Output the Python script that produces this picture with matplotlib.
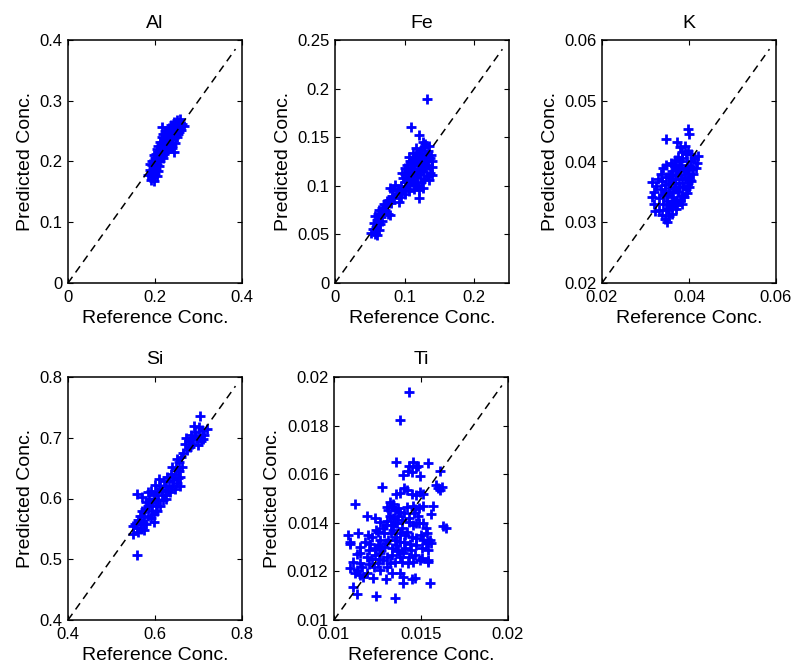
import matplotlib
matplotlib.use("Agg")
import matplotlib.pyplot as plt

plt.rcParams['font.family'] = ['Liberation Sans', 'DejaVu Sans']

# ---------------- data ----------------
al_pts = [(0.185,0.178),(0.190,0.170),(0.193,0.182),(0.188,0.186),(0.196,0.175),(0.198,0.168),(0.200,0.180),
          (0.195,0.190),(0.202,0.188),(0.205,0.176),(0.192,0.195),(0.199,0.198),(0.204,0.195),(0.208,0.185),
          (0.210,0.192),(0.200,0.205),(0.206,0.203),(0.212,0.200),(0.197,0.210),(0.203,0.212),(0.209,0.208),
          (0.214,0.207),(0.205,0.220),(0.210,0.216),(0.215,0.214),(0.218,0.205),(0.208,0.226),(0.213,0.223),
          (0.218,0.220),(0.221,0.213),(0.212,0.232),(0.216,0.229),(0.220,0.226),(0.224,0.222),(0.216,0.240),
          (0.221,0.236),(0.225,0.232),(0.228,0.228),(0.215,0.257),(0.222,0.245),(0.226,0.241),(0.230,0.236),
          (0.233,0.232),(0.228,0.250),(0.232,0.246),(0.235,0.242),(0.238,0.237),(0.232,0.255),(0.236,0.252),
          (0.240,0.248),(0.243,0.244),(0.237,0.260),(0.241,0.257),(0.245,0.253),(0.248,0.249),(0.243,0.265),
          (0.247,0.262),(0.251,0.258),(0.254,0.255),(0.250,0.268),(0.255,0.264),(0.258,0.260),(0.257,0.270),
          (0.262,0.262),(0.267,0.258),(0.243,0.216),(0.238,0.222),(0.245,0.230),(0.250,0.240),(0.252,0.246),
          (0.225,0.215),(0.230,0.220),(0.194,0.200),(0.188,0.196),(0.222,0.250),(0.218,0.245),(0.240,0.226),
          (0.235,0.226),(0.260,0.252),(0.255,0.248)]
al_x = [p[0] for p in al_pts]
al_y = [p[1] for p in al_pts]

fe_pts = [(0.132,0.189),(0.109,0.161),(0.121,0.152),(0.121,0.087),(0.127,0.145),
          (0.052,0.051),(0.058,0.050),(0.061,0.049),(0.055,0.056),(0.059,0.058),(0.063,0.055),(0.056,0.062),
          (0.060,0.065),(0.064,0.061),(0.067,0.064),(0.058,0.069),(0.062,0.071),(0.066,0.068),(0.069,0.072),
          (0.063,0.075),(0.068,0.077),(0.072,0.075),(0.070,0.081),(0.075,0.079),(0.076,0.071),(0.079,0.070),
          (0.074,0.084),(0.078,0.085),(0.080,0.082),
          (0.082,0.090),(0.085,0.087),(0.088,0.092),(0.083,0.096),(0.079,0.098),(0.092,0.083),(0.095,0.088),
          (0.090,0.097),(0.086,0.101),(0.093,0.094),
          (0.095,0.100),(0.098,0.096),(0.100,0.104),(0.097,0.108),(0.102,0.099),(0.104,0.106),(0.101,0.112),
          (0.106,0.101),(0.108,0.109),(0.105,0.115),(0.110,0.104),(0.112,0.111),(0.109,0.118),(0.104,0.121),
          (0.114,0.106),(0.116,0.114),(0.113,0.121),(0.108,0.125),(0.118,0.109),(0.120,0.117),(0.117,0.124),
          (0.112,0.128),(0.122,0.112),(0.124,0.120),(0.121,0.127),(0.116,0.131),(0.126,0.115),(0.128,0.123),
          (0.125,0.130),(0.120,0.134),(0.130,0.118),(0.132,0.126),(0.129,0.133),(0.124,0.137),(0.134,0.121),
          (0.136,0.129),(0.133,0.136),(0.128,0.140),(0.137,0.113),(0.138,0.132),(0.135,0.141),(0.140,0.125),
          (0.139,0.119),(0.132,0.110),(0.128,0.107),(0.124,0.104),(0.118,0.100),(0.113,0.097),(0.107,0.095),
          (0.100,0.092),(0.135,0.106),(0.140,0.111),(0.117,0.139),(0.112,0.134),(0.106,0.130),(0.100,0.118),
          (0.096,0.113),(0.130,0.143),(0.115,0.102),(0.120,0.096),(0.126,0.098),(0.110,0.124),
          (0.114,0.116),(0.119,0.121),(0.123,0.125),(0.127,0.119),(0.131,0.130),(0.115,0.126),(0.107,0.113)]
fe_x = [p[0] for p in fe_pts]
fe_y = [p[1] for p in fe_pts]

k_pts = [(0.0398,0.0454),(0.0399,0.0446),(0.0347,0.0437),(0.0372,0.0432),(0.0380,0.0424),(0.0390,0.0426),
         (0.0315,0.0366),(0.0316,0.0342),(0.0320,0.0330),(0.0322,0.0318),(0.0330,0.0320),(0.0337,0.0312),
         (0.0345,0.0306),(0.0349,0.0301),(0.0355,0.0310),(0.0362,0.0314),(0.0370,0.0322),(0.0372,0.0328),
         (0.0380,0.0335),(0.0388,0.0342),(0.0395,0.0348),(0.0400,0.0358),(0.0405,0.0368),(0.0410,0.0380),
         (0.0415,0.0390),(0.0418,0.0397),(0.0421,0.0409),(0.0412,0.0405),(0.0405,0.0412),(0.0398,0.0418),
         (0.0392,0.0412),(0.0385,0.0415),(0.0375,0.0408),(0.0368,0.0402),(0.0358,0.0398),(0.0348,0.0395),
         (0.0340,0.0390),(0.0335,0.0380),(0.0328,0.0372),(0.0323,0.0360),(0.0320,0.0350),
         (0.0330,0.0340),(0.0335,0.0355),(0.0340,0.0330),(0.0343,0.0345),(0.0345,0.0362),(0.0348,0.0375),
         (0.0350,0.0335),(0.0353,0.0350),(0.0355,0.0365),(0.0358,0.0380),(0.0360,0.0325),(0.0362,0.0342),
         (0.0365,0.0358),(0.0367,0.0372),(0.0370,0.0388),(0.0372,0.0336),(0.0375,0.0350),(0.0377,0.0365),
         (0.0380,0.0380),(0.0382,0.0395),(0.0385,0.0345),(0.0387,0.0360),(0.0390,0.0373),(0.0392,0.0388),
         (0.0395,0.0400),(0.0397,0.0365),(0.0400,0.0380),(0.0402,0.0392),(0.0405,0.0400),(0.0408,0.0388),
         (0.0338,0.0368),(0.0352,0.0322),(0.0365,0.0395),(0.0378,0.0400),(0.0360,0.0370),(0.0370,0.0355),
         (0.0384,0.0330),(0.0395,0.0390),
         (0.0350,0.0345),(0.0357,0.0357),(0.0363,0.0350),(0.0368,0.0365),(0.0373,0.0378),(0.0378,0.0358),
         (0.0383,0.0372),(0.0388,0.0385),(0.0375,0.0390),(0.0362,0.0385),(0.0355,0.0375),(0.0345,0.0352),
         (0.0340,0.0345),(0.0348,0.0320),(0.0357,0.0330),(0.0366,0.0333),(0.0393,0.0355),(0.0398,0.0375),
         (0.0402,0.0370),(0.0383,0.0405),(0.0370,0.0395)]
k_x = [p[0] for p in k_pts]
k_y = [p[1] for p in k_pts]

si_pts = [(0.704,0.736),(0.558,0.507),(0.558,0.608),(0.550,0.555),(0.550,0.541),(0.719,0.714),(0.712,0.705),
          (0.705,0.695),(0.698,0.688),(0.708,0.712),(0.700,0.718),(0.692,0.710),(0.695,0.700),(0.688,0.698),
          (0.686,0.690),(0.700,0.703),(0.710,0.698),(0.690,0.720),(0.683,0.705),(0.678,0.695),(0.680,0.684),
          (0.672,0.700),(0.670,0.690),(0.674,0.680),
          (0.665,0.675),(0.660,0.668),(0.655,0.660),(0.662,0.652),(0.650,0.665),(0.648,0.650),(0.655,0.645),
          (0.658,0.635),(0.645,0.640),(0.640,0.652),(0.642,0.630),(0.650,0.625),(0.658,0.620),(0.652,0.633),
          (0.636,0.640),(0.632,0.628),(0.640,0.620),(0.645,0.615),(0.628,0.635),(0.625,0.620),(0.630,0.612),
          (0.620,0.628),(0.615,0.615),(0.622,0.605),(0.610,0.632),(0.612,0.620),(0.618,0.598),(0.605,0.610),
          (0.600,0.622),(0.608,0.598),(0.612,0.588),(0.598,0.605),(0.594,0.595),(0.602,0.588),(0.590,0.612),
          (0.587,0.600),(0.585,0.588),(0.592,0.580),(0.598,0.575),(0.580,0.595),(0.578,0.582),(0.583,0.572),
          (0.590,0.568),(0.597,0.562),(0.575,0.570),(0.570,0.580),(0.572,0.560),(0.580,0.558),(0.565,0.572),
          (0.565,0.560),(0.568,0.550),(0.560,0.565),(0.558,0.552),(0.562,0.545),(0.555,0.558),(0.575,0.548),
          (0.570,0.603),(0.585,0.610),(0.605,0.580),(0.615,0.605),(0.625,0.600),(0.635,0.610),(0.600,0.600),
          (0.590,0.590)]
si_x = [p[0] for p in si_pts]
si_y = [p[1] for p in si_pts]

# Ti values in units of 1e-3
ti_pts = [(14.32,19.37),(13.79,18.24),(13.56,16.52),(14.55,16.52),(14.32,16.32),(14.74,16.29),(14.84,16.35),
          (15.41,16.46),(14.46,16.11),(14.26,16.14),(13.98,15.98),(14.93,15.93),(16.08,16.14),(12.73,15.49),
          (14.02,15.43),(14.17,15.36),(15.89,15.54),(15.95,15.43),(16.08,15.33),(16.18,15.49),(13.59,15.19),
          (13.79,15.22),(14.46,15.19),(14.74,15.15),(14.93,15.25),(15.12,15.19),(11.19,14.77),(13.21,14.84),
          (13.40,14.78),(13.31,14.67),(13.02,14.67),(13.12,14.53),(13.50,14.53),(13.79,14.46),(14.17,14.67),
          (14.55,14.70),(14.65,14.56),(14.89,14.60),(15.12,14.71),(15.70,14.70),(15.55,14.37),(11.87,14.26),
          (12.35,14.19),(12.64,14.05),(13.06,14.09),(13.25,13.91),(13.50,14.01),(13.69,14.26),(13.88,14.12),
          (14.32,14.05),(14.55,13.91),(14.74,13.98),(15.12,13.98),(16.27,13.85),(16.42,13.80),
          (10.82,13.50),(10.92,13.23),(11.36,13.57),(11.97,13.50),(12.54,13.64),(12.87,13.57),(13.40,13.71),
          (13.59,13.43),(13.79,13.57),(14.17,13.64),(14.46,13.43),(14.74,13.37),(15.12,13.30),(15.32,13.57),
          (15.41,13.23),(10.92,13.13),(11.49,13.02),(12.07,13.13),(12.35,12.95),(12.64,13.30),(12.98,13.16),
          (13.31,12.95),(13.59,13.09),(13.79,13.23),(14.07,12.95),(14.36,13.13),(14.74,13.09),(15.03,12.95),
          (15.28,13.16),(11.49,12.75),(11.87,12.61),(12.35,12.68),(12.64,12.75),(13.02,12.61),(13.31,12.68),
          (13.69,12.82),(13.98,12.75),(14.32,12.61),(14.65,12.68),(15.03,12.54),(15.41,12.88),(15.55,13.16),
          (10.92,12.13),(11.30,12.06),(11.49,12.34),(11.87,11.92),(12.54,12.34),(12.83,12.47),(13.02,12.20),
          (13.21,12.34),(13.50,12.40),(13.88,12.40),(14.26,12.34),(14.55,12.40),(14.93,12.47),(15.41,12.47),
          (15.41,12.40),(11.20,11.92),(11.49,11.85),(11.68,11.79),(12.26,11.72),(12.64,12.06),(12.98,11.68),
          (13.31,11.92),(13.79,11.92),(13.98,11.79),(14.46,11.68),(14.65,11.72),(15.51,11.54),
          (11.11,11.37),(11.30,11.07),(12.41,10.99),(13.50,10.89),(13.98,11.51),
          (13.2,14.3),(13.4,14.2),(13.6,14.0),(13.9,13.8),(14.1,13.5),(13.5,13.3),(13.3,13.6),(13.0,13.9),
          (12.8,13.8),(13.7,14.6),(14.0,14.4),(14.3,14.2),(13.1,13.3),(12.9,13.0),(14.0,13.2),(13.6,12.9),
          (14.4,12.9),(13.8,12.6),(12.7,12.9),(12.5,13.1),(12.2,13.4),(12.0,12.3),(12.3,12.2),(14.9,14.0),
          (15.0,13.5),(15.3,13.8),(15.5,13.3),(14.6,14.4),(14.8,14.3),
          (11.1,12.4),(11.3,12.7),(11.6,12.2),(12.0,12.9),(12.2,12.5),(11.8,13.2),(12.4,13.7),(12.6,12.5)]
ti_x = [p[0] * 1e-3 for p in ti_pts]
ti_y = [p[1] * 1e-3 for p in ti_pts]

titles = ["Al", "Fe", "K", "Si", "Ti"]
limits = [(0, 0.4), (0, 0.25), (0.02, 0.06), (0.4, 0.8), (0.01, 0.02)]
diag_end = [0.385, 0.2405, 0.0585, 0.785, 0.01965]
x_ticks = [[0, 0.2, 0.4], [0, 0.1, 0.2], [0.02, 0.04, 0.06], [0.4, 0.6, 0.8], [0.01, 0.015, 0.02]]
x_ticklabels = [["0", "0.2", "0.4"], ["0", "0.1", "0.2"], ["0.02", "0.04", "0.06"],
                ["0.4", "0.6", "0.8"], ["0.01", "0.015", "0.02"]]
y_ticks = [[0, 0.1, 0.2, 0.3, 0.4], [0, 0.05, 0.1, 0.15, 0.2, 0.25],
           [0.02, 0.03, 0.04, 0.05, 0.06], [0.4, 0.5, 0.6, 0.7, 0.8],
           [0.01, 0.012, 0.014, 0.016, 0.018, 0.02]]
y_ticklabels = [["0", "0.1", "0.2", "0.3", "0.4"], ["0", "0.05", "0.1", "0.15", "0.2", "0.25"],
                ["0.02", "0.03", "0.04", "0.05", "0.06"], ["0.4", "0.5", "0.6", "0.7", "0.8"],
                ["0.01", "0.012", "0.014", "0.016", "0.018", "0.02"]]
xs = [al_x, fe_x, k_x, si_x, ti_x]
ys = [al_y, fe_y, k_y, si_y, ti_y]

# ---------------- layout ----------------
W, H = 794, 668
fig = plt.figure(figsize=(W / 100, H / 100), dpi=100)
boxes = [(68, 40, 174, 243), (335, 40, 174, 243), (602, 40, 174, 243),
         (68, 377, 174, 243), (334, 377, 174, 243)]

for i, (l, t, w, h) in enumerate(boxes):
    ax = fig.add_axes([l / W, 1 - (t + h) / H, w / W, h / H])
    lo, hi = limits[i]
    ax.plot([lo, diag_end[i]], [lo, diag_end[i]], color='black', lw=1.1,
            dashes=(5, 3.5), zorder=3)
    ax.plot(xs[i], ys[i], linestyle='none', marker='+', color='#0000ff',
            ms=7, mew=2.0, zorder=2)
    ax.set_xlim(lo, hi)
    ax.set_ylim(lo, hi)
    ax.set_xticks(x_ticks[i])
    ax.set_xticklabels(x_ticklabels[i])
    ax.set_yticks(y_ticks[i])
    ax.set_yticklabels(y_ticklabels[i])
    ax.tick_params(direction='in', length=3.5, width=0.8, labelsize=12,
                   top=True, right=True, pad=5)
    ax.tick_params(axis='y', pad=4)
    for s in ax.spines.values():
        s.set_linewidth(1.1)
    ax.set_title(titles[i], fontsize=14, pad=9)
    ax.set_xlabel("Reference Conc.", fontsize=14, labelpad=4)
    ax.set_ylabel("Predicted Conc.", fontsize=14, labelpad=4)

fig.savefig("out.png", dpi=100)
